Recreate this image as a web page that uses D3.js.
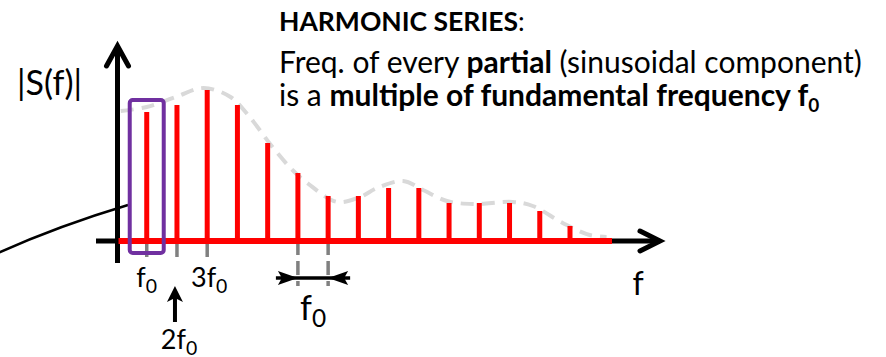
<!DOCTYPE html>
<html>
<head>
<meta charset="utf-8">
<script src="https://cdn.jsdelivr.net/npm/d3@7"></script>
<style>
  html, body { margin: 0; padding: 0; background: #fff; }
  svg { display: block; font-family: Lato, "Open Sans", sans-serif; }
</style>
</head>
<body>
<svg id="chart" width="886" height="357"></svg>
<script>
// harmonic number of each partial and its magnitude (arbitrary units)
var harmonics = [1, 2, 3, 4, 5, 6, 7, 8, 9, 10, 11, 12, 13, 14, 15];
var magnitudes = [129, 136, 151, 136, 98, 68, 45, 45, 53, 53, 38, 38, 38, 30, 15];

// spectral envelope (dashed grey), read at fractional harmonic positions
var envelopeN = [0.14, 1, 1.96, 2.88, 3.77, 4.43, 5.16, 5.82, 6.31, 7.3, 8.06,
                 8.62, 9.48, 10.14, 10.93, 11.79, 13.11, 13.77, 14.76, 15.65, 16.21];
var envelopeMag = [130, 134, 144, 153, 144, 123, 94, 71, 58, 39, 44,
                   53, 60, 51, 40, 37, 39, 35, 18, 6, 4];

// labelled ticks
var tickN = [1, 2, 3];
var tickPrefix = ['', '2', '3'];
var spacingN = [6, 7];   // pair used to show the f0 spacing

var titleLines = [
    [{t: 'HARMONIC SERIES', b: true}, {t: ':', b: false}],
    [{t: 'Freq. of every ', b: false}, {t: 'partial', b: true}, {t: ' (sinusoidal component)', b: false}],
    [{t: 'is a ', b: false}, {t: 'multiple of fundamental frequency f', b: true}]
];

var svg = d3.select('#chart');

var x = d3.scaleLinear().domain([0, 15]).range([116.5, 570]);
var y = d3.scaleLinear().domain([0, 160]).range([241, 81]);

var RED = '#ff0000', GREY = '#808080', PURPLE = '#7030a0';

// callout connector coming in from the left
svg.append('path')
    .attr('d', 'M-2,253 Q58,226 128,205')
    .attr('fill', 'none')
    .attr('stroke', '#000')
    .attr('stroke-width', 2.4);

// black axes
var y0 = y(0);
svg.append('line')
    .attr('x1', 96).attr('x2', 660)
    .attr('y1', y0).attr('y2', y0)
    .attr('stroke', '#000').attr('stroke-width', 5);
svg.append('path')
    .attr('d', 'M640,' + (y0 - 10) + ' L660,' + y0 + ' L640,' + (y0 + 10))
    .attr('fill', 'none').attr('stroke', '#000').attr('stroke-width', 5)
    .attr('stroke-linecap', 'round').attr('stroke-linejoin', 'miter');

var xa = x(0) + 1;
svg.append('line')
    .attr('x1', xa).attr('x2', xa)
    .attr('y1', 263).attr('y2', 47)
    .attr('stroke', '#000').attr('stroke-width', 5);
svg.append('path')
    .attr('d', 'M' + (xa - 11) + ',66 L' + xa + ',46 L' + (xa + 11) + ',66')
    .attr('fill', 'none').attr('stroke', '#000').attr('stroke-width', 5)
    .attr('stroke-linecap', 'round');

// grey ticks under the first harmonics
svg.selectAll('.tick')
    .data(tickN)
    .enter().append('line')
    .attr('x1', d => x(d)).attr('x2', d => x(d))
    .attr('y1', y0).attr('y2', y0 + 16)
    .attr('stroke', GREY).attr('stroke-width', 3.5);

// grey dashed ticks for the spacing pair
svg.selectAll('.sp')
    .data(spacingN)
    .enter().append('line')
    .attr('x1', d => x(d)).attr('x2', d => x(d))
    .attr('y1', y0).attr('y2', y0 + 45)
    .attr('stroke', GREY).attr('stroke-width', 3.5)
    .attr('stroke-dasharray', '14,6');

// envelope
var env = envelopeN.map((n, i) => [x(n), y(envelopeMag[i])]);
svg.append('path')
    .attr('d', d3.line().curve(d3.curveCatmullRom.alpha(0.5))(env))
    .attr('fill', 'none')
    .attr('stroke', '#d9d9d9')
    .attr('stroke-width', 4)
    .attr('stroke-dasharray', '13,8');

// red baseline and partials
svg.append('line')
    .attr('x1', x(0) + 2).attr('x2', 612)
    .attr('y1', y0).attr('y2', y0)
    .attr('stroke', RED).attr('stroke-width', 6);

svg.selectAll('.bar')
    .data(harmonics)
    .enter().append('line')
    .attr('x1', d => x(d)).attr('x2', d => x(d))
    .attr('y1', y0).attr('y2', (d, i) => y(magnitudes[i]))
    .attr('stroke', RED).attr('stroke-width', 5);

// purple highlight round the fundamental
svg.append('rect')
    .attr('x', x(1) - 17).attr('y', 100)
    .attr('width', 34).attr('height', 153)
    .attr('rx', 3)
    .attr('fill', 'none').attr('stroke', PURPLE).attr('stroke-width', 4);

// spacing arrow between the pair
var sy = 278;
svg.append('line')
    .attr('x1', x(spacingN[0]) - 22).attr('x2', x(spacingN[1]) + 22)
    .attr('y1', sy).attr('y2', sy)
    .attr('stroke', '#000').attr('stroke-width', 3.5);
spacingN.forEach(function (n, i) {
    var tip = x(n), dir = i === 0 ? -1 : 1;
    svg.append('path')
        .attr('d', 'M' + tip + ',' + sy +
            ' L' + (tip + dir * 20) + ',' + (sy - 7) +
            ' L' + (tip + dir * 16) + ',' + sy +
            ' L' + (tip + dir * 20) + ',' + (sy + 7) + 'Z')
        .attr('fill', '#000');
});

// f-with-subscript label
function fLabel(px, py, prefix, size) {
    var t = svg.append('text')
        .attr('x', px).attr('y', py)
        .attr('text-anchor', 'middle')
        .attr('font-size', size)
        .attr('fill', '#000');
    t.append('tspan').text(prefix + 'f');
    t.append('tspan').attr('dy', size * 0.22).attr('font-size', size * 0.72).text('0');
    return t;
}

fLabel(x(tickN[0]), 287, tickPrefix[0], 27);
fLabel(x(tickN[2]) + 2, 287, tickPrefix[2], 27);
fLabel(x(tickN[1]) + 2, 349, tickPrefix[1], 27);

// little up arrow pointing at 2f0
var ax = x(2) - 2;
svg.append('line')
    .attr('x1', ax).attr('x2', ax).attr('y1', 322).attr('y2', 298)
    .attr('stroke', '#000').attr('stroke-width', 4);
svg.append('path')
    .attr('d', 'M' + ax + ',286 L' + (ax - 8) + ',302 L' + ax + ',298 L' + (ax + 8) + ',302Z')
    .attr('fill', '#000');

// big f0 under the spacing arrow
fLabel((x(spacingN[0]) + x(spacingN[1])) / 2, 320, '', 34);

// axis names
svg.append('text').attr('x', 638).attr('y', 295)
    .attr('text-anchor', 'middle').attr('font-size', 32).text('f');
svg.append('text').attr('x', 17).attr('y', 95)
    .attr('font-size', 34).text('|S(f)|');

// explanatory text
var tb = [31, 73, 106];
var ts = [26.5, 30, 30];
titleLines.forEach(function (line, i) {
    var t = svg.append('text').attr('x', 279).attr('y', tb[i]).attr('font-size', ts[i]);
    line.forEach(function (s) {
        t.append('tspan').attr('font-weight', s.b ? 700 : 400).text(s.t);
    });
    if (i === 2) {
        t.append('tspan').attr('font-weight', 700).attr('font-size', 19).attr('dy', 6).text('0');
    }
});
</script>
</body>
</html>
